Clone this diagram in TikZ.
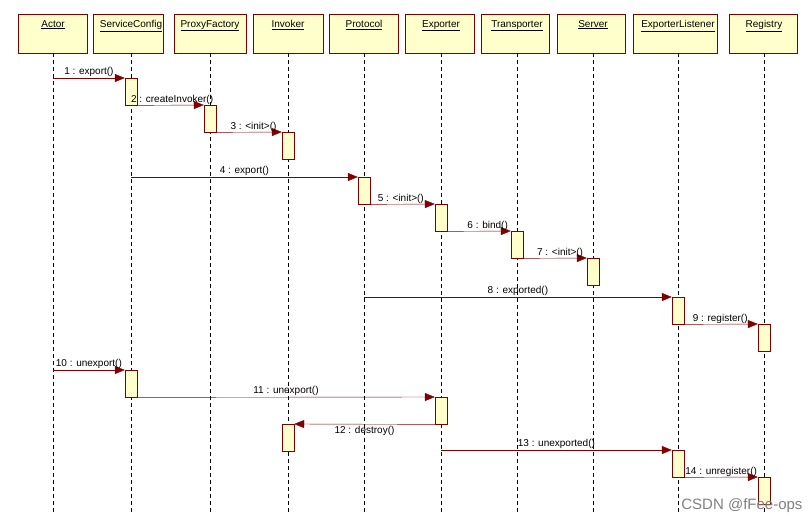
\documentclass[tikz,border=0pt]{standalone}
\usepackage{fontspec}
\setmainfont{Liberation Sans}
\usetikzlibrary{arrows.meta}
\definecolor{umlred}{RGB}{128,0,0}
\definecolor{umlfill}{RGB}{255,255,204}
\tikzset{
  head/.style={draw=umlred, fill=umlfill, minimum height=39pt, inner sep=0pt, anchor=north west},
  act/.style={draw=umlred, fill=umlfill, minimum width=12pt, minimum height=27pt, inner sep=0pt, anchor=north},
  life/.style={dashed, dash pattern=on 4pt off 3pt, black},
  msg/.style={umlred, -{Triangle[length=10pt,width=8pt]}},
  lbl/.style={font=\fontsize{10}{12}\selectfont, inner sep=1pt}
}
\newcommand{\txt}[1]{\underline{#1}}

\begin{document}
\begin{tikzpicture}[x=1pt, y=-1pt]
  \useasboundingbox (0,0) rectangle (810,527);

  % heads and lifelines
  \foreach \nm/\xl/\w/\xc in {Actor/18/69/53, ServiceConfig/93/70/131, ProxyFactory/174/72/210,
      Invoker/253/70/288, Protocol/329/69/364, Exporter/405/69/441, Transporter/481/68/517,
      Server/557/68/593, ExporterListener/633/84/678, Registry/729/68/764} {
    \node[head, minimum width=\w pt] (\nm) at (\xl,14) {};
    \node[lbl, anchor=north] at (\xc,19) {\txt{\nm}};
    \coordinate (\nm-end) at (\xc,512);
    \draw[life] (\xc,53) -- (\nm-end);
  }

  % activations
  \node[act] (a1) at (131,78) {};
  \node[act] (a2) at (210,105) {};
  \node[act] (a3) at (288,132) {};
  \node[act] (a4) at (364,177) {};
  \node[act] (a5) at (441,204) {};
  \node[act] (a6) at (517,231) {};
  \node[act] (a7) at (593,258) {};
  \node[act] (a8) at (678,297) {};
  \node[act] (a9) at (764,324) {};
  \node[act] (a10) at (131,370) {};
  \node[act] (a11) at (441,397) {};
  \node[act] (a12) at (288,424) {};
  \node[act] (a13) at (678,450) {};
  \node[act] (a14) at (764,477) {};

  \coordinate (s1) at (53,78);
  \coordinate (s4) at (131,177);
  \coordinate (s8) at (364,297);
  \coordinate (s10) at (53,370);
  \coordinate (s13) at (441,450);

  % messages
  \draw[msg] (s1) -- (a1.north west) node[lbl, pos=0.5, above, black] {1 : export()};
  \draw[msg] (a1.south east) -- (a2.north west) node[lbl, pos=0.1, above right, black, xshift=-14pt] {2 : createInvoker()};
  \draw[msg] (a2.south east) -- (a3.north west) node[lbl, pos=0.2, above right, black] {3 : <init>()};
  \draw[msg] (s4) -- (a4.north west) node[lbl, pos=0.5, above, black] {4 : export()};
  \draw[msg] (a4.south east) -- (a5.north west) node[lbl, pos=0.1, above right, black] {5 : <init>()};
  \draw[msg] (a5.south east) -- (a6.north west) node[lbl, pos=0.3, above right, black] {6 : bind()};
  \draw[msg] (a6.south east) -- (a7.north west) node[lbl, pos=0.2, above right, black] {7 : <init>()};
  \draw[msg] (s8) -- (a8.north west) node[lbl, pos=0.5, above, black] {8 : exported()};
  \draw[msg] (a8.south east) -- (a9.north west) node[lbl, pos=0.1, above right, black] {9 : register()};
  \draw[msg] (s10) -- (a10.north west) node[lbl, pos=0.5, above, black] {10 : unexport()};
  \draw[msg] (a10.south east) -- (a11.north west) node[lbl, pos=0.5, above, black] {11 : unexport()};
  \draw[msg] (a11.south west) -- (a12.north east) node[lbl, pos=0.5, below, black, yshift=-1pt] {12 : destroy()};
  \draw[msg] (s13) -- (a13.north west) node[lbl, pos=0.5, above, black] {13 : unexported()};
  \draw[msg] (a13.south east) -- (a14.north west) node[lbl, pos=0.0, above right, black] {14 : unregister()};

  % watermark
  \node[anchor=east, gray, font=\fontsize{15}{18}\selectfont] (mark) at (806,506) {CSDN @fFee-ops};
\end{tikzpicture}
\end{document}
